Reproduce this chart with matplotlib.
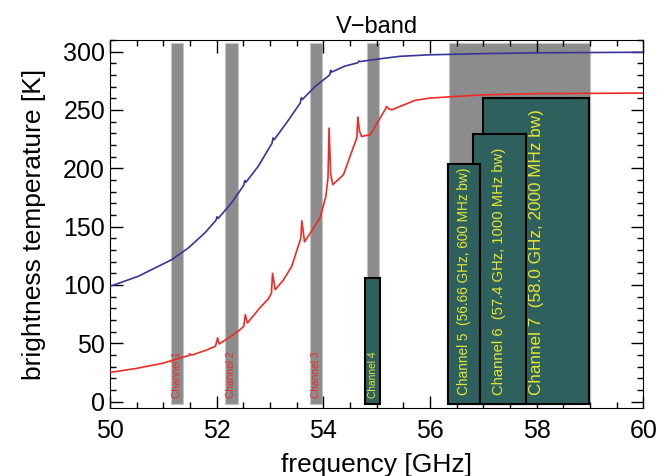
import numpy as np
import matplotlib
matplotlib.use('Agg')
import matplotlib.pyplot as plt

plt.rcParams['font.family'] = ['Liberation Sans', 'DejaVu Sans']

# clear sky TB (blue) and warm/moist TB (red)
freq_blue = [50.0, 50.53, 51.16, 51.47, 51.78, 51.99, 52.01, 52.03, 52.28, 52.51, 52.53,
             52.55, 52.78, 53.04, 53.06, 53.08, 53.31, 53.57, 53.59, 53.61, 53.85, 54.12,
             54.14, 54.16, 54.4, 54.65, 54.67, 54.69, 55.0, 55.44, 56.0, 57.0, 58.0, 60.0]
tb_blue = [98.8, 107.4, 121.7, 131.7, 144.6, 155.5, 158.5, 157, 170.3, 185.5, 189.5,
           188, 201.6, 221.5, 226, 224.5, 238.8, 256, 260.5, 259, 270.2, 280,
           284, 282.5, 287.5, 290.5, 292, 291.5, 293.5, 296, 297.3, 298.3, 299, 299.5]

freq_red = [50.0, 50.5, 51.0, 51.25, 51.48, 51.5, 51.53, 51.8, 51.98, 52.02, 52.05, 52.3,
            52.44, 52.51, 52.54, 52.58, 52.81, 52.97, 53.03, 53.05, 53.1, 53.25, 53.41,
            53.53, 53.58, 53.6, 53.65, 53.78, 53.94, 54.05, 54.09, 54.11, 54.14, 54.18,
            54.38, 54.56, 54.63, 54.65, 54.68, 54.72, 54.88, 55.03, 55.17, 55.19, 55.23,
            55.29, 55.44, 55.72, 56.0, 56.5, 57.0, 58.0, 60.0]
tb_red = [25, 28.5, 33, 36.5, 39.5, 41, 39.8, 44, 47.5, 54.6, 49.4, 57,
          61.7, 64.5, 74.5, 67.4, 80.3, 88, 93, 110, 96, 104, 116,
          133, 140, 155, 137, 146, 157.4, 176, 192, 234.5, 195, 186,
          194.5, 217.4, 226, 244, 232, 227.3, 228.8, 240.2, 251, 253, 251,
          250.2, 253, 258.2, 260.2, 261.6, 263, 264, 264.5]

# narrow channels 1-4 (gray) and the wide gray band behind 5-7
gray_center = [51.26, 52.28, 53.86, 54.94, 57.68]
gray_width = [0.23, 0.23, 0.23, 0.23, 2.64]
gray_top = 307

# teal boxes: (lo, hi, top), drawn 7 -> 4 so 5 lies on top
box_lo = [57.0, 56.8, 56.34, 54.79]
box_hi = [58.98, 57.8, 56.94, 55.07]
box_top = [260, 229, 204, 106]

ch_pos = [51.26, 52.28, 53.86, 54.94]
ch_names = ['Channel 1', 'Channel 2', 'Channel 3', 'Channel 4']
ch_colors = ['#ee2a24', '#ee2a24', '#ee2a24', '#e8e830']

wide_pos = [56.64, 57.3, 57.99]
wide_labels = ['Channel 5  (56.66 GHz, 600 MHz bw)',
               'Channel 6  (57.4 GHz, 1000 MHz bw)',
               'Channel 7  (58.0 GHz, 2000 MHz bw)']
wide_sizes = [9.8, 10.6, 12.3]

fig = plt.figure(figsize=(6.7, 4.76), dpi=100)
ax = fig.add_axes([0.164, 0.143, 0.796, 0.773])

bottom = -2
for c, w in zip(gray_center, gray_width):
    ax.bar(c, gray_top - bottom, width=w, bottom=bottom, color='#8c8c8c',
           edgecolor='#c4c4c4', linewidth=0.8, zorder=1)

for lo, hi, top in zip(box_lo, box_hi, box_top):
    ax.bar(lo, top - bottom, width=hi - lo, bottom=bottom, align='edge',
           color='#2e605e', edgecolor='black', linewidth=1.5, zorder=2)

for x, name, col in zip(ch_pos, ch_names, ch_colors):
    ax.text(x, 3, name, rotation=90, ha='center', va='bottom', color=col,
            fontsize=7.3, zorder=3)

for x, lab, fs in zip(wide_pos, wide_labels, wide_sizes):
    ax.text(x, 6, lab, rotation=90, ha='center', va='bottom', color='#e8e830',
            fontsize=fs, zorder=3)

ax.plot(freq_blue, tb_blue, color='#38349a', lw=1.2, zorder=4)
ax.plot(freq_red, tb_red, color='#ee2a24', lw=1.2, zorder=4)

ax.set_xlim(50, 60)
ax.set_ylim(-5.4, 310)
ax.set_xticks(np.arange(50, 61, 2))
ax.set_xticks(np.arange(50, 60.01, 0.5), minor=True)
ax.set_yticks(np.arange(0, 301, 50))
ax.set_yticks(np.arange(0, 311, 10), minor=True)
ax.tick_params(which='both', direction='in', top=True, right=True, labelsize=18)
ax.tick_params(which='major', length=9, width=1)
ax.tick_params(which='minor', length=4.5, width=1)
ax.tick_params(axis='x', pad=8)

ax.set_xlabel('frequency [GHz]', fontsize=19, labelpad=7)
ax.set_ylabel('brightness temperature [K]', fontsize=19, labelpad=12)
ax.set_title('V\u2212band', fontsize=17, pad=5)

fig.savefig('out.png', dpi=100)
